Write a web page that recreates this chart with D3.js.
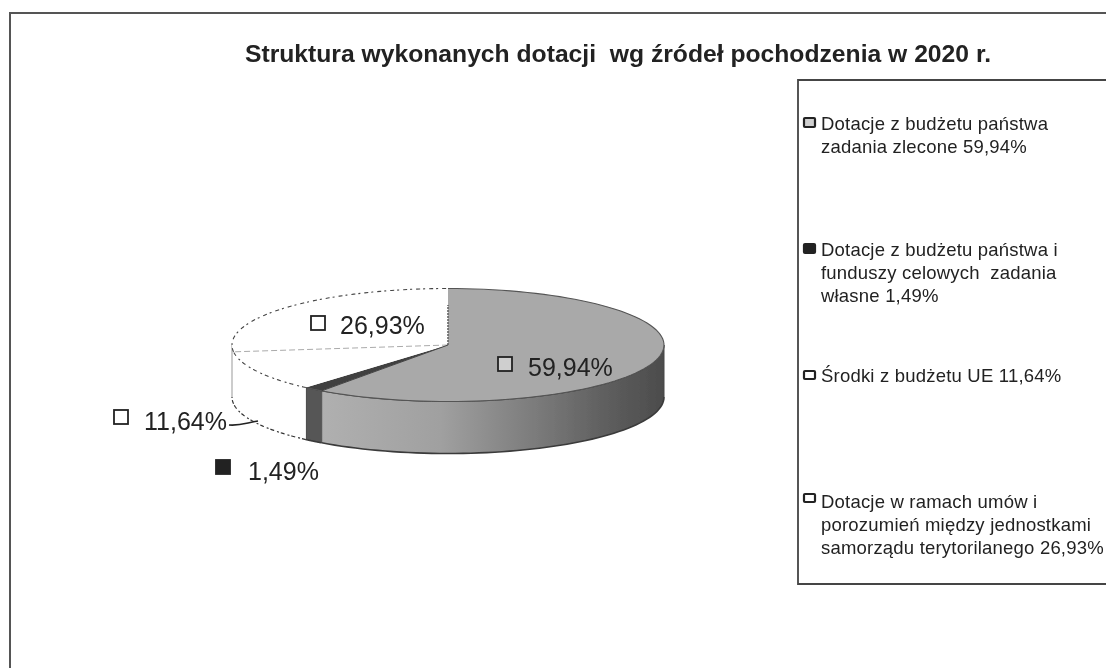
<!DOCTYPE html>
<html lang="pl">
<head>
<meta charset="utf-8">
<script src="https://cdnjs.cloudflare.com/ajax/libs/d3/7.8.5/d3.min.js"></script>
<style>
html,body{margin:0;padding:0;background:#fff;overflow:hidden}
svg{display:block}
text{font-family:"Liberation Sans",Arial,sans-serif;fill:#222}
</style>
</head>
<body>
<svg id="c" width="1106" height="668"></svg>
<script>
// Data
const titleText = "Struktura wykonanych dotacji  wg źródeł pochodzenia w 2020 r.";
const categories = ["Dotacje zlecone", "Dotacje własne", "Środki UE", "Dotacje umowy"];
const values = [59.94, 1.49, 11.64, 26.93];
const valueLabels = ["59,94%", "1,49%", "11,64%", "26,93%"];
const legendLines = [
  ["Dotacje z budżetu państwa", "zadania zlecone 59,94%"],
  ["Dotacje z budżetu państwa i", "funduszy celowych  zadania", "własne 1,49%"],
  ["Środki z budżetu UE 11,64%"],
  ["Dotacje w ramach umów i", "porozumień między jednostkami", "samorządu terytorilanego 26,93%"]
];

// Layout and style (separate from data)
const W = 1106, H = 668;
const cx = 448, cy = 345, rx = 216, ry = 56.5, depth = 52;
const topFill = ["#a9a9a9", "#3f3f3f", "#ffffff", "#ffffff"];
const sideFill = ["url(#sideGrad)", "#565656", "#ffffff", "#ffffff"];
const markerFill = ["#cfcfcf", "#222222", "#ffffff", "#ffffff"];
const labelAnchor = [
  {mx:498, my:357, tx:528, ty:376},
  {mx:216, my:460, tx:248, ty:480},
  {mx:114, my:410, tx:144, ty:430},
  {mx:311, my:316, tx:340, ty:334}
];
const legendBox = {x:798, y:80, bottom:584};
const legendBase = [130, 256, 382, 508];
const legendMarkerY = [118, 244, 371, 494];
const lineStep = 23;

const svg = d3.select("#c");
const defs = svg.append("defs");
const grad = defs.append("linearGradient").attr("id","sideGrad")
  .attr("gradientUnits","userSpaceOnUse").attr("x1",320).attr("x2",664).attr("y1",0).attr("y2",0);
[[0,"#b0b0b0"],[0.35,"#a0a0a0"],[0.62,"#7c7c7c"],[0.85,"#5c5c5c"],[1,"#4c4c4c"]]
  .forEach(s => grad.append("stop").attr("offset",s[0]).attr("stop-color",s[1]));
defs.append("filter").attr("id","scan").attr("x","-2%").attr("y","-2%").attr("width","104%").attr("height","104%")
  .append("feGaussianBlur").attr("stdDeviation",0.5);

const root = svg.append("g").attr("filter","url(#scan)");
root.append("rect").attr("width",W).attr("height",H).attr("fill","#fff");

// Frame
root.append("path").attr("d",`M${W+5},13 H10 V${H+5}`).attr("fill","none").attr("stroke","#555").attr("stroke-width",2);

// Title
root.append("text").attr("x",245).attr("y",62).attr("xml:space","preserve")
  .style("white-space","pre").attr("font-weight","bold").attr("font-size",24)
  .attr("textLength",746).attr("lengthAdjust","spacingAndGlyphs").text(titleText);

// Pie
const arcs = d3.pie().sort(null).value(d => d).startAngle(0).endAngle(2*Math.PI)(values);
const px = a => cx + rx*Math.sin(a), py = a => cy - ry*Math.cos(a);
const sidePath = d3.area().x(a => px(a)).y0(a => py(a)).y1(a => py(a)+depth);
const rimLine = d3.line().x(a => px(a)).y(a => py(a));
const rimLow = d3.line().x(a => px(a)).y(a => py(a)+depth);
const pie = root.append("g");

// Sides (front half only)
arcs.forEach((d,i) => {
  const a0 = Math.max(d.startAngle, Math.PI/2), a1 = Math.min(d.endAngle, 3*Math.PI/2);
  if (a1 <= a0) return;
  const pts = d3.range(0,61).map(k => a0 + (a1-a0)*k/60);
  pie.append("path").attr("d",sidePath(pts)).attr("fill",sideFill[i]).attr("stroke","none");
  const white = topFill[i] === "#ffffff";
  pie.append("path").attr("d",rimLow(pts)).attr("fill","none")
    .attr("stroke", white ? "#333" : "#3a3a3a").attr("stroke-width",white?1.2:1.6)
    .attr("stroke-dasharray", white ? "4 2 2 3" : null);
  if (!white) {
    pie.append("path").attr("d",rimLine(pts)).attr("fill","none").attr("stroke","#3a3a3a").attr("stroke-width",1);
    pie.append("line").attr("x1",px(d.endAngle)).attr("x2",px(d.endAngle))
      .attr("y1",py(d.endAngle)).attr("y2",py(d.endAngle)+depth).attr("stroke","#444").attr("stroke-width",1);
  }
});
// Silhouette edges of the side wall
pie.append("line").attr("x1",px(3*Math.PI/2)).attr("x2",px(3*Math.PI/2))
  .attr("y1",py(3*Math.PI/2)).attr("y2",py(3*Math.PI/2)+depth)
  .attr("stroke","#aaa").attr("stroke-width",1.2);
pie.append("line").attr("x1",px(Math.PI/2)).attr("x2",px(Math.PI/2))
  .attr("y1",py(Math.PI/2)).attr("y2",py(Math.PI/2)+depth)
  .attr("stroke","#444").attr("stroke-width",1);

// Top faces
const topG = pie.append("g").attr("transform",`translate(${cx},${cy}) scale(${rx},${ry})`);
const arcGen = d3.arc().innerRadius(0).outerRadius(1);
topG.selectAll("path").data(arcs).join("path")
  .attr("d",arcGen).attr("fill",(d,i) => topFill[i]).attr("stroke","none");

// Top-face outlines
arcs.forEach((d,i) => {
  const pts = d3.range(0,91).map(k => d.startAngle + (d.endAngle-d.startAngle)*k/90);
  const white = topFill[i] === "#ffffff";
  pie.append("path").attr("d",rimLine(pts)).attr("fill","none")
    .attr("stroke", white ? "#444" : "#555").attr("stroke-width",1.1)
    .attr("stroke-dasharray", white ? "4 3 2 4" : null);
});
// Radial boundary between the two white slices, and the speckled top edge
const whiteEdge = arcs[2].endAngle;
pie.append("line").attr("x1",cx).attr("y1",cy).attr("x2",px(whiteEdge)).attr("y2",py(whiteEdge))
  .attr("stroke","#aaa").attr("stroke-width",1).attr("stroke-dasharray","6 3");
pie.append("line").attr("x1",cx).attr("y1",cy).attr("x2",cx).attr("y2",cy-40)
  .attr("stroke","#666").attr("stroke-width",1.6).attr("stroke-dasharray","2 1");
pie.append("line").attr("x1",cx).attr("y1",cy).attr("x2",px(arcs[1].startAngle)).attr("y2",py(arcs[1].startAngle))
  .attr("stroke","#444").attr("stroke-width",1);

// Leader line for the 11,64% label
root.append("path").attr("d","M229,425 C240,426 246,423 258,421").attr("fill","none")
  .attr("stroke","#222").attr("stroke-width",1.6);

// Data labels
valueLabels.forEach((t,i) => {
  const p = labelAnchor[i];
  root.append("rect").attr("x",p.mx).attr("y",p.my).attr("width",14).attr("height",14)
    .attr("fill",markerFill[i]).attr("stroke","#222").attr("stroke-width",1.8);
  root.append("text").attr("x",p.tx).attr("y",p.ty).attr("font-size",25).text(t);
});

// Legend
root.append("path").attr("d",`M${W+5},${legendBox.y} H${legendBox.x} V${legendBox.bottom} H${W+5}`)
  .attr("fill","none").attr("stroke","#444").attr("stroke-width",1.8);
legendLines.forEach((lines,i) => {
  root.append("rect").attr("x",804).attr("y",legendMarkerY[i]).attr("width",11).attr("height",i===2||i===3?8:9)
    .attr("rx",1).attr("fill",markerFill[i]).attr("stroke","#222").attr("stroke-width",2.2);
  lines.forEach((l,j) => {
    root.append("text").attr("x",821).attr("y",legendBase[i]+j*lineStep)
      .style("white-space","pre").style("letter-spacing","0.2px").attr("font-size",18.5).text(l);
  });
});
</script>
</body>
</html>
